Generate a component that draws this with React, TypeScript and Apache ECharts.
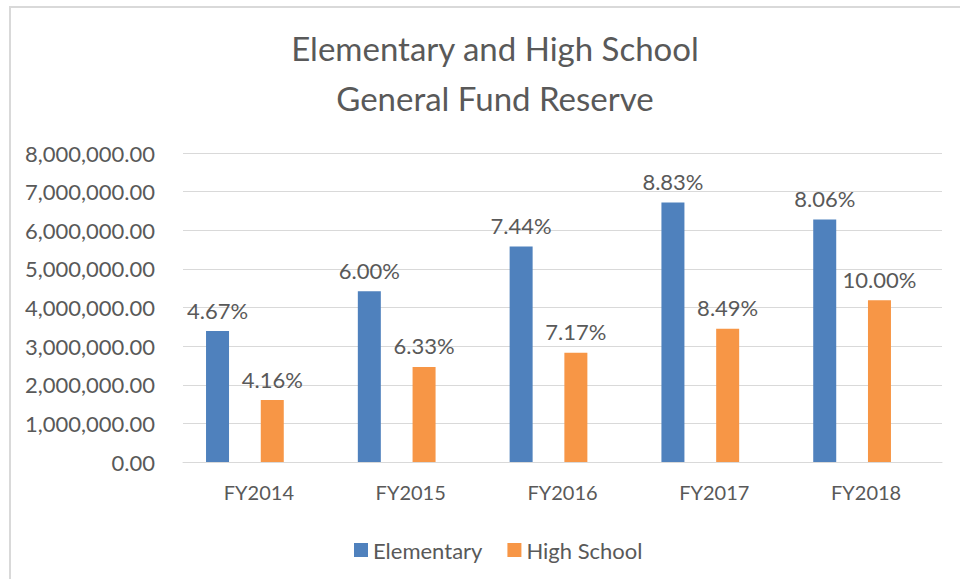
import React, { useEffect, useRef } from "react";
import * as echarts from "echarts";

const categories = ["FY2014", "FY2015", "FY2016", "FY2017", "FY2018"];
const elementary = [3390000, 4420000, 5580000, 6720000, 6280000];
const highSchool = [1605000, 2460000, 2830000, 3450000, 4190000];
const elementaryPct = [4.67, 6.0, 7.44, 8.83, 8.06];
const highSchoolPct = [4.16, 6.33, 7.17, 8.49, 10.0];
const yMin = 0;
const yMax = 8000000;
const yInterval = 1000000;

const FONT = "Lato, 'Noto Sans', sans-serif";
const GRAY = "#595959";
const LINE = "#d9d9d9";

const fmtMoney = (v: number) =>
  v.toLocaleString("en-US", { minimumFractionDigits: 2, maximumFractionDigits: 2 });

export default function App() {
  const ref = useRef<HTMLDivElement>(null);
  useEffect(() => {
    if (!ref.current) return;
    const chart = echarts.init(ref.current, null, { renderer: "svg" });
    const gridTop = 153;
    const gridBottom = 117;
    chart.setOption({
      animation: false,
      backgroundColor: "#ffffff",
      textStyle: { fontFamily: FONT },
      graphic: [
        {
          type: "line",
          shape: { x1: 9, y1: 7, x2: 960, y2: 7 },
          style: { stroke: LINE, lineWidth: 2 },
        },
        {
          type: "line",
          shape: { x1: 10, y1: 6, x2: 10, y2: 579 },
          style: { stroke: LINE, lineWidth: 2 },
        },
        {
          type: "text",
          x: 495,
          y: 48,
          style: {
            text: "Elementary and High School",
            align: "center",
            verticalAlign: "middle",
            fontFamily: FONT,
            fontSize: 33,
            fontWeight: "normal",
            fill: GRAY,
          },
        },
        {
          type: "text",
          x: 495,
          y: 98,
          style: {
            text: "General Fund Reserve",
            align: "center",
            verticalAlign: "middle",
            fontFamily: FONT,
            fontSize: 33,
            fontWeight: "normal",
            fill: GRAY,
          },
        },
      ],
      legend: {
        left: 354,
        top: 539,
        padding: 0,
        icon: "rect",
        itemWidth: 14,
        itemHeight: 14,
        itemGap: 25,
        textStyle: { fontFamily: FONT, fontSize: 22, color: GRAY },
        data: ["Elementary", "High School"],
      },
      grid: [
        { left: 183, right: 18, top: gridTop, bottom: gridBottom, containLabel: false },
        { left: 169, right: 32, top: gridTop, bottom: gridBottom, containLabel: false },
      ],
      xAxis: [
        {
          gridIndex: 0,
          type: "category",
          data: categories,
          axisLine: { lineStyle: { color: LINE, width: 1 } },
          axisTick: { show: false },
          axisLabel: { color: GRAY, fontFamily: FONT, fontSize: 20, margin: 20 },
        },
        {
          gridIndex: 1,
          type: "category",
          data: categories,
          show: false,
        },
      ],
      yAxis: [
        {
          gridIndex: 0,
          type: "value",
          min: yMin,
          max: yMax,
          interval: yInterval,
          axisLine: { show: false },
          axisTick: { show: false },
          splitLine: { lineStyle: { color: LINE, width: 1 } },
          axisLabel: {
            color: GRAY,
            fontFamily: FONT,
            fontSize: 22,
            margin: 28,
            formatter: (v: number) => fmtMoney(v),
          },
        },
        {
          gridIndex: 1,
          type: "value",
          min: yMin,
          max: yMax,
          interval: yInterval,
          show: false,
          splitLine: { show: false },
        },
      ],
      series: [
        {
          name: "Elementary",
          type: "bar",
          xAxisIndex: 1,
          yAxisIndex: 1,
          data: elementary,
          barWidth: 23,
          barGap: "138%",
          itemStyle: { color: "#4F81BD" },
          label: {
            show: true,
            position: "top",
            distance: 10,
            color: GRAY,
            fontFamily: FONT,
            fontSize: 22,
            formatter: (p: any) => elementaryPct[p.dataIndex].toFixed(2) + "%",
          },
        },
        {
          name: "High School",
          type: "bar",
          xAxisIndex: 1,
          yAxisIndex: 1,
          data: highSchool,
          barWidth: 23,
          barGap: "138%",
          itemStyle: { color: "#F79646" },
          label: {
            show: true,
            position: "top",
            distance: 10,
            color: GRAY,
            fontFamily: FONT,
            fontSize: 22,
            formatter: (p: any) => highSchoolPct[p.dataIndex].toFixed(2) + "%",
          },
        },
      ],
    });
    return () => chart.dispose();
  }, []);
  return (
    <div
      ref={ref}
      style={{ position: "absolute", left: 0, top: 0, width: 960, height: 579 }}
    />
  );
}
